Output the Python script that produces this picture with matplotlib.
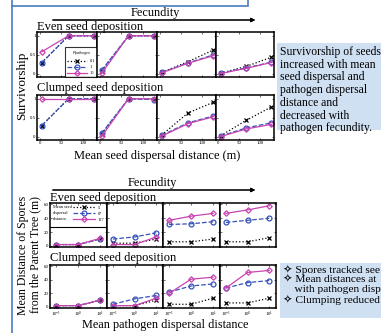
import matplotlib
matplotlib.use('Agg')
import matplotlib.pyplot as plt
from matplotlib.patches import Rectangle
from matplotlib.lines import Line2D

# ---- data ----
seed_dist = [5, 67, 127]            # mean seed dispersal distance (m)
path_dist = [0.1, 1, 10]            # mean pathogen dispersal distance
p_labels = ['0.1', '1', '10']       # P_pathogen
d_labels = ['5', '67', '127']       # mean seed dispersal distance

# survivorship, one list per fecundity panel (low -> high)
surv_even_p01 = [[0.30, 1, 1], [0.08, 1, 1], [0.04, 0.32, 0.63], [0.02, 0.20, 0.44]]
surv_even_p1 = [[0.29, 1, 1], [0.10, 1, 1], [0.04, 0.29, 0.50], [0.02, 0.16, 0.31]]
surv_even_p10 = [[0.58, 1, 1], [0.02, 1, 1], [0.03, 0.28, 0.48], [0.01, 0.15, 0.30]]
surv_clump_p01 = [[0.30, 1, 1], [0.08, 1, 1], [0.05, 0.63, 0.91], [0.03, 0.44, 0.79]]
surv_clump_p1 = [[0.30, 1, 1], [0.10, 1, 0.98], [0.04, 0.37, 0.55], [0.02, 0.24, 0.37]]
surv_clump_p10 = [[1, 1, 1], [0.02, 1, 1], [0.02, 0.35, 0.53], [0.01, 0.21, 0.33]]

# mean distance of spores from parent tree (m)
spore_even_d5 = [[2, 2, 10], [4, 4, 10], [6, 6, 10], [6, 6, 12]]
spore_even_d67 = [[2, 2, 10], [10, 13, 19], [31, 32, 35], [34, 37, 40]]
spore_even_d127 = [[2, 2, 11], [2, 2, 13], [37, 43, 47], [47, 52, 58]]
spore_clump_d5 = [[2, 2, 10], [2, 2, 10], [4, 4, 13], [6, 6, 13]]
spore_clump_d67 = [[2, 2, 10], [4, 12, 17], [22, 31, 34], [28, 36, 39]]
spore_clump_d127 = [[2, 2, 10], [2, 2, 13], [20, 41, 44], [28, 51, 54]]

# ---- style ----
W, H = 381, 333
SERIF = ['Liberation Serif', 'DejaVu Serif']
plt.rcParams['font.family'] = SERIF
BLUE_EDGE = '#4a7dc0'
BOX_FILL = '#cfe0f2'
styles = [
    dict(color='black', ls=':', marker='x', mfc='none'),
    dict(color='#3552b8', ls='--', marker='o', mfc='none'),
    dict(color='#c844b0', ls='-', marker='D', mfc='none'),
]

fig = plt.figure(figsize=(W / 100, H / 100), dpi=100)
fig.patch.set_facecolor('white')


def add_ax(x0, y0, x1, y1):
    return fig.add_axes([x0 / W, 1 - y1 / H, (x1 - x0) / W, (y1 - y0) / H])


def fx(x):
    return x / W


def fy(y):
    return 1 - y / H


def style_ax(ax, left, bottom):
    for s in ax.spines.values():
        s.set_linewidth(1.1)
    ax.tick_params(direction='in', length=1.5, width=0.4, labelsize=3.5, pad=1,
                   top=True, right=True)
    if not left:
        ax.set_yticklabels([])
    if not bottom:
        ax.set_xticklabels([])


def draw_series(ax, x, series, labels, ms):
    for ys, lab, st in zip(series, labels, styles):
        ax.plot(x, ys, lw=0.9, ms=ms if st['marker'] != 'D' else ms * 0.8,
                mew=0.9, label=lab, **st)


# ---- decorations: slide frame ----
fig.add_artist(Rectangle((fx(12), fy(6)), fx(248) - fx(12), 0.05, transform=fig.transFigure,
                         facecolor='white', edgecolor=BLUE_EDGE, lw=1.2))
fig.add_artist(Line2D([fx(12), fx(12)], [fy(6), 0], transform=fig.transFigure,
                      color=BLUE_EDGE, lw=1.2))

# ---- top: survivorship ----
top_x = [37, 97, 157, 216, 274]
top_rows = [(32, 77), (95, 140)]
top_data = [
    [surv_even_p01, surv_even_p1, surv_even_p10],
    [surv_clump_p01, surv_clump_p1, surv_clump_p10],
]
for r, (y0, y1) in enumerate(top_rows):
    for c in range(4):
        ax = add_ax(top_x[c], y0, top_x[c + 1], y1)
        draw_series(ax, seed_dist, [d[c] for d in top_data[r]], p_labels, 3.5)
        ax.set_xlim(-6, 133)
        ax.set_ylim(-0.08, 1.1)
        ax.set_xticks([0, 50, 100])
        ax.set_yticks([0, 0.5, 1])
        ax.set_yticklabels(['0', '0.5', '1'])
        style_ax(ax, c == 0, r == 1)
        if r == 0 and c == 0:
            leg = ax.legend(title='$P_{pathogen}$', loc='lower right', fontsize=3.2,
                            title_fontsize=3.2, frameon=True, fancybox=False,
                            edgecolor='black', borderaxespad=0, handlelength=4.5,
                            labelspacing=0.4, borderpad=0.4, handletextpad=0.6)
            leg.get_frame().set_linewidth(0.8)

fig.text(fx(155), fy(13), 'Fecundity', ha='center', va='center', fontsize=8.8)
fig.add_artist(plt.annotate('', xy=(fx(258), fy(20)), xytext=(fx(50), fy(20)),
                            xycoords='figure fraction',
                            arrowprops=dict(arrowstyle='-|>', lw=0.8, color='black',
                                            mutation_scale=6)))
fig.text(fx(37), fy(27), 'Even seed deposition', ha='left', va='center', fontsize=9)
fig.text(fx(37), fy(88), 'Clumped seed deposition', ha='left', va='center', fontsize=9)
fig.text(fx(22), fy(86), 'Survivorship', ha='center', va='center', rotation=90, fontsize=9.5)
fig.text(fx(157), fy(156), 'Mean seed dispersal distance (m)', ha='center', va='center',
         fontsize=9)

fig.add_artist(Rectangle((fx(277), fy(130)), fx(381) - fx(277), fy(43) - fy(130),
                         transform=fig.transFigure, facecolor=BOX_FILL, edgecolor='none'))
fig.text(fx(280), fy(46), 'Survivorship of seeds\nincreased with mean\nseed dispersal and\n'
         'pathogen dispersal\ndistance and\ndecreased with\npathogen fecundity.',
         ha='left', va='top', fontsize=8.4, linespacing=1.08)

# ---- bottom: spore distance ----
bot_x = [50, 107, 163, 220, 276]
bot_rows = [(203, 247), (265, 308)]
bot_data = [
    [spore_even_d5, spore_even_d67, spore_even_d127],
    [spore_clump_d5, spore_clump_d67, spore_clump_d127],
]
for r, (y0, y1) in enumerate(bot_rows):
    for c in range(4):
        ax = add_ax(bot_x[c], y0, bot_x[c + 1], y1)
        draw_series(ax, path_dist, [d[c] for d in bot_data[r]], d_labels, 3.5)
        ax.set_xscale('log')
        ax.set_xlim(10 ** -1.27, 10 ** 1.31)
        ax.set_ylim(-1.5, 62)
        ax.set_xticks([0.1, 1, 10])
        ax.minorticks_off()
        ax.set_yticks([0, 20, 40, 60])
        style_ax(ax, c == 0, r == 1)
        if r == 0 and c == 0:
            leg = ax.legend(loc='upper right', fontsize=3.2, frameon=False,
                            borderaxespad=0.2, handlelength=5, labelspacing=0.4,
                            handletextpad=0.5)
            ax.text(0.05, 0.95, 'Mean seed\ndispersal\ndistance', transform=ax.transAxes,
                    ha='left', va='top', fontsize=3.2, linespacing=1.6)
            ax.plot([0, 1], [0.45, 0.45], transform=ax.transAxes, color='black', lw=0.8)

fig.text(fx(152), fy(183), 'Fecundity', ha='center', va='center', fontsize=8.8)
fig.add_artist(plt.annotate('', xy=(fx(258), fy(190)), xytext=(fx(50), fy(190)),
                            xycoords='figure fraction',
                            arrowprops=dict(arrowstyle='-|>', lw=0.8, color='black',
                                            mutation_scale=6)))
fig.text(fx(50), fy(198), 'Even seed deposition', ha='left', va='center', fontsize=9)
fig.text(fx(50), fy(258), 'Clumped seed deposition', ha='left', va='center', fontsize=9)
fig.text(fx(29), fy(255), 'Mean Distance of Spores\nfrom the Parent Tree (m)', ha='center',
         va='center', rotation=90, fontsize=8.5, linespacing=1.0)
fig.text(fx(165), fy(325), 'Mean pathogen dispersal distance', ha='center', va='center',
         fontsize=8.8)

fig.add_artist(Rectangle((fx(280), fy(318)), fx(381) - fx(280), fy(263) - fy(318),
                         transform=fig.transFigure, facecolor=BOX_FILL, edgecolor='none'))
fig.text(fx(283), fy(264), '\u2727 Spores tracked see\n\u2727 Mean distances at\n'
         '    with pathogen disp\n\u2727 Clumping reduced',
         ha='left', va='top', fontsize=8.2, linespacing=1.08,
         family=['Liberation Serif', 'DejaVu Sans'])

fig.savefig('out.png', dpi=100)
